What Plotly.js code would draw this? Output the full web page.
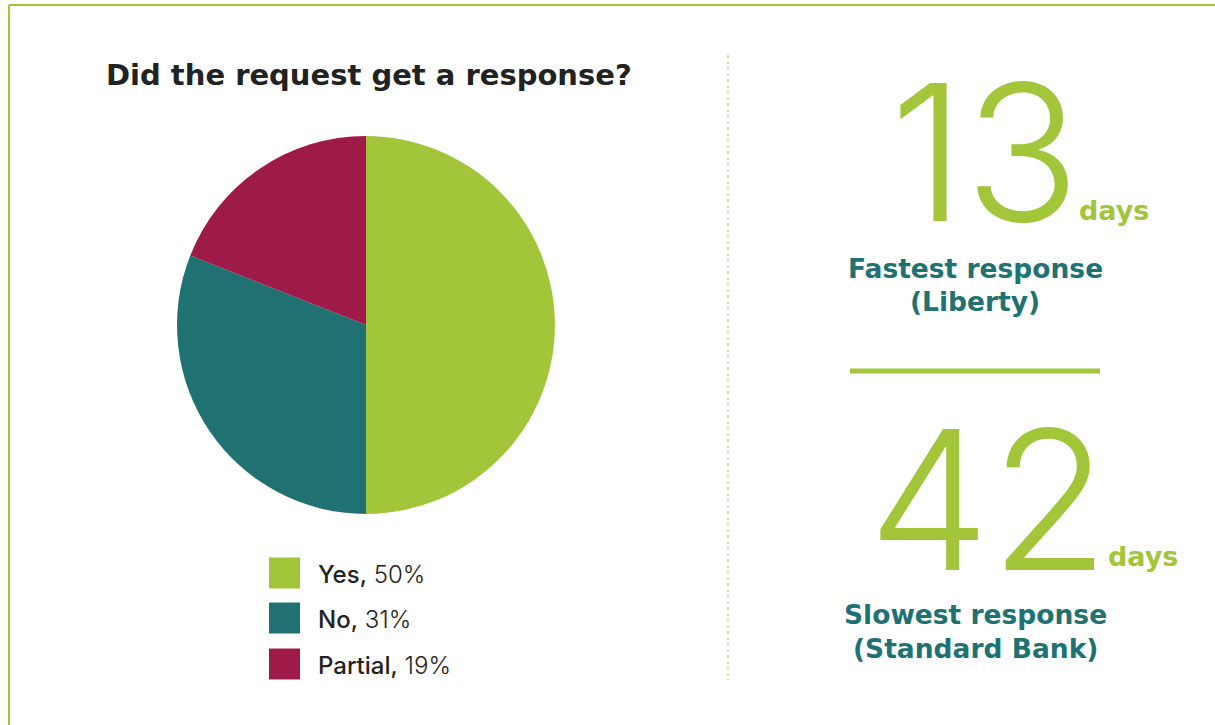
<!DOCTYPE html>
<html>
<head>
<meta charset="utf-8">
<script src="https://cdn.plot.ly/plotly-3.0.1.min.js"></script>
<style>html,body{margin:0;padding:0;background:#fff}#chart{width:1215px;height:725px}</style>
</head>
<body>
<div id="chart"></div>
<script>
var categories = ['Yes', 'No', 'Partial'];
var shares = [50, 31, 19];
var sliceColors = ['#a2c53a', '#207272', '#9e1a48'];
var chartTitle = 'Did the request get a response?';
var statValues = [13, 42];
var statUnit = 'days';
var statLabels = [['Fastest response', '(Liberty)'], ['Slowest response', '(Standard Bank)']];

var W = 1215, H = 725;
var green = '#a2c53a', teal = '#207272';
var FONT = 'Inter, "Open Sans", sans-serif';
var WIDE = '"DejaVu Sans", sans-serif';
function px(x){return x / W;}
function py(y){return 1 - y / H;}

var cx = 366, cy = 325, r = 189;
var trace = {
  type: 'pie',
  labels: categories,
  values: shares,
  marker: {colors: sliceColors, line: {width: 0}},
  sort: false,
  direction: 'clockwise',
  rotation: 0,
  textinfo: 'none',
  hoverinfo: 'label+percent',
  showlegend: false,
  domain: {x: [px(cx - r), px(cx + r)], y: [py(cy + r), py(cy - r)]}
};

var shapes = [
  {type: 'line', xref: 'paper', yref: 'paper', x0: px(9), x1: 1, y0: py(5), y1: py(5), line: {color: green, width: 2}},
  {type: 'line', xref: 'paper', yref: 'paper', x0: px(9), x1: px(9), y0: py(5), y1: 0, line: {color: green, width: 2}},
  {type: 'line', xref: 'paper', yref: 'paper', x0: px(728), x1: px(728), y0: py(55), y1: py(680), line: {color: '#c9de8c', width: 1.5, dash: 'dot'}},
  {type: 'line', xref: 'paper', yref: 'paper', x0: px(850), x1: px(1100), y0: py(371), y1: py(371), line: {color: green, width: 5}}
];
var annotations = [
  {text: '<b>' + chartTitle + '</b>', xref: 'paper', yref: 'paper', x: px(104), y: py(75), xanchor: 'left', yanchor: 'middle', showarrow: false, font: {family: WIDE, size: 29, color: '#222222'}}
];

var legendY = [573, 618, 664];
categories.forEach(function(c, i){
  var y = legendY[i];
  shapes.push({type: 'rect', xref: 'paper', yref: 'paper', x0: px(269), x1: px(300), y0: py(y + 15.5), y1: py(y - 15.5), fillcolor: sliceColors[i], line: {width: 0}});
  annotations.push({text: '<span style="font-weight:500">' + c + ',</span> <span style="font-weight:300">' + shares[i] + '%</span>', xref: 'paper', yref: 'paper', x: px(316), y: py(y + 1), xanchor: 'left', yanchor: 'middle', showarrow: false, font: {family: FONT, size: 24, color: '#222222'}});
});

var statNumX = [985, 988];
var statNumY = [152, 499];
var statNumSize = [190, 194];
var unitX = [1077, 1106];
var unitY = [210, 556];
var labelY = [[268, 301], [614, 648]];
statValues.forEach(function(v, i){
  annotations.push({text: String(v), xref: 'paper', yref: 'paper', x: px(statNumX[i]), y: py(statNumY[i]), xanchor: 'center', yanchor: 'middle', height: 150, valign: 'middle', showarrow: false, font: {family: FONT, size: statNumSize[i], color: green, weight: 300}});
  annotations.push({text: '<b>' + statUnit + '</b>', xref: 'paper', yref: 'paper', x: px(unitX[i]), y: py(unitY[i]), xanchor: 'left', yanchor: 'middle', showarrow: false, font: {family: WIDE, size: 27, color: green}});
  statLabels[i].forEach(function(t, j){
    annotations.push({text: '<b>' + t + '</b>', xref: 'paper', yref: 'paper', x: px(975), y: py(labelY[i][j]), xanchor: 'center', yanchor: 'middle', showarrow: false, font: {family: WIDE, size: 26.5, color: teal}});
  });
});

var layout = {
  width: W, height: H,
  margin: {l: 0, r: 0, t: 0, b: 0},
  paper_bgcolor: '#ffffff',
  showlegend: false,
  shapes: shapes,
  annotations: annotations
};
Plotly.newPlot('chart', [trace], layout, {displayModeBar: false, staticPlot: true});
</script>
</body>
</html>
